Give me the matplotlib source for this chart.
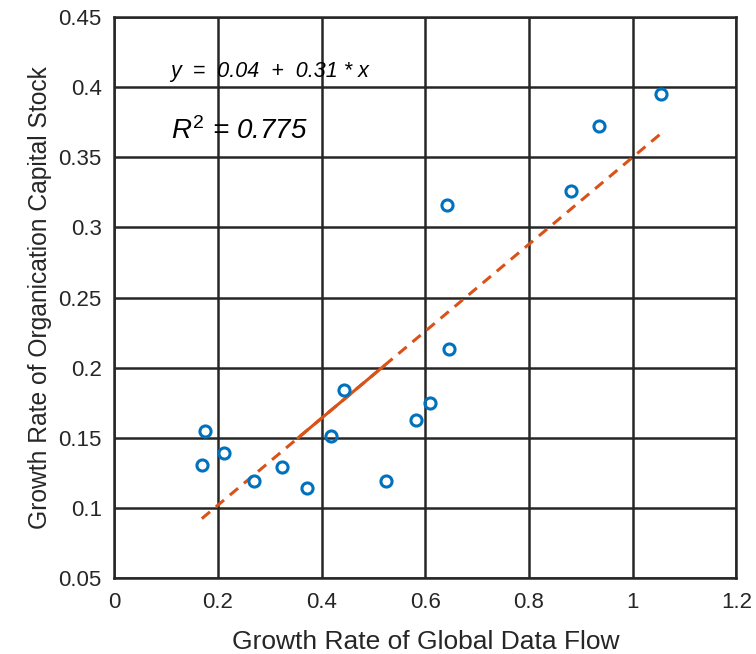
import matplotlib.pyplot as plt

# dados
taxa_fluxo = [0.169, 0.175, 0.212, 0.270, 0.324, 0.372, 0.418, 0.443, 0.525,
              0.582, 0.610, 0.642, 0.645, 0.882, 0.935, 1.055]
taxa_capital = [0.131, 0.155, 0.139, 0.119, 0.129, 0.114, 0.151, 0.184, 0.119,
                0.163, 0.175, 0.316, 0.213, 0.326, 0.372, 0.395]

intercepto = 0.04
inclinacao = 0.31
r2 = 0.775

x_ticks = [0, 0.2, 0.4, 0.6, 0.8, 1, 1.2]
x_labels = ['0', '0.2', '0.4', '0.6', '0.8', '1', '1.2']
y_ticks = [0.05, 0.1, 0.15, 0.2, 0.25, 0.3, 0.35, 0.4, 0.45]
y_labels = ['0.05', '0.1', '0.15', '0.2', '0.25', '0.3', '0.35', '0.4', '0.45']

plt.rcParams['font.family'] = ['Liberation Sans', 'DejaVu Sans']
plt.rcParams['mathtext.fontset'] = 'custom'
plt.rcParams['mathtext.it'] = 'Liberation Sans:italic'
plt.rcParams['mathtext.rm'] = 'Liberation Sans'

cor_texto = '#262626'

fig = plt.figure(figsize=(7.56, 6.54), dpi=100)
ax = fig.add_axes([0.151, 0.116, 0.823, 0.858])

# reta ajustada: tracejada nas pontas, continua no meio
x0, x1 = min(taxa_fluxo), max(taxa_fluxo)
ax.plot([x0, x1], [intercepto + inclinacao * x0, intercepto + inclinacao * x1],
        color='#D95319', lw=2.2, linestyle=(0, (3.5, 2.5)), zorder=3)
xs, xe = 0.355, 0.52
ax.plot([xs, xe], [intercepto + inclinacao * xs, intercepto + inclinacao * xe],
        color='#D95319', lw=2.2, zorder=3)

ax.plot(taxa_fluxo, taxa_capital, 'o', mfc='none', mec='#0072BD', mew=2.2,
        ms=8, zorder=4)

ax.text(0.108, 0.411, f'y  =  {intercepto:.2f}  +  {inclinacao:.2f} * x',
        style='italic', fontsize=15.5, va='center', ha='left', color='black')
ax.text(0.109, 0.369, f'$R^2$ = {r2:.3f}', style='italic', fontsize=20,
        va='center', ha='left', color='black')

ax.set_xlim(0, 1.2)
ax.set_ylim(0.05, 0.45)
ax.set_xticks(x_ticks)
ax.set_xticklabels(x_labels)
ax.set_yticks(y_ticks)
ax.set_yticklabels(y_labels)
ax.tick_params(length=0, labelsize=16, colors=cor_texto)
ax.tick_params(axis='y', pad=9)
ax.tick_params(axis='x', pad=10)
ax.grid(True, color=cor_texto, lw=1.8)
ax.set_axisbelow(True)
for s in ax.spines.values():
    s.set_color(cor_texto)
    s.set_linewidth(1.8)

ax.set_xlabel('Growth Rate of Global Data Flow', fontsize=19, color=cor_texto)
ax.set_ylabel('Growth Rate of Organication Capital Stock', fontsize=17.7, color=cor_texto)
ax.xaxis.set_label_coords(0.5, -0.092)
ax.yaxis.set_label_coords(-0.10, 0.5)

fig.savefig('out.png', dpi=100)
